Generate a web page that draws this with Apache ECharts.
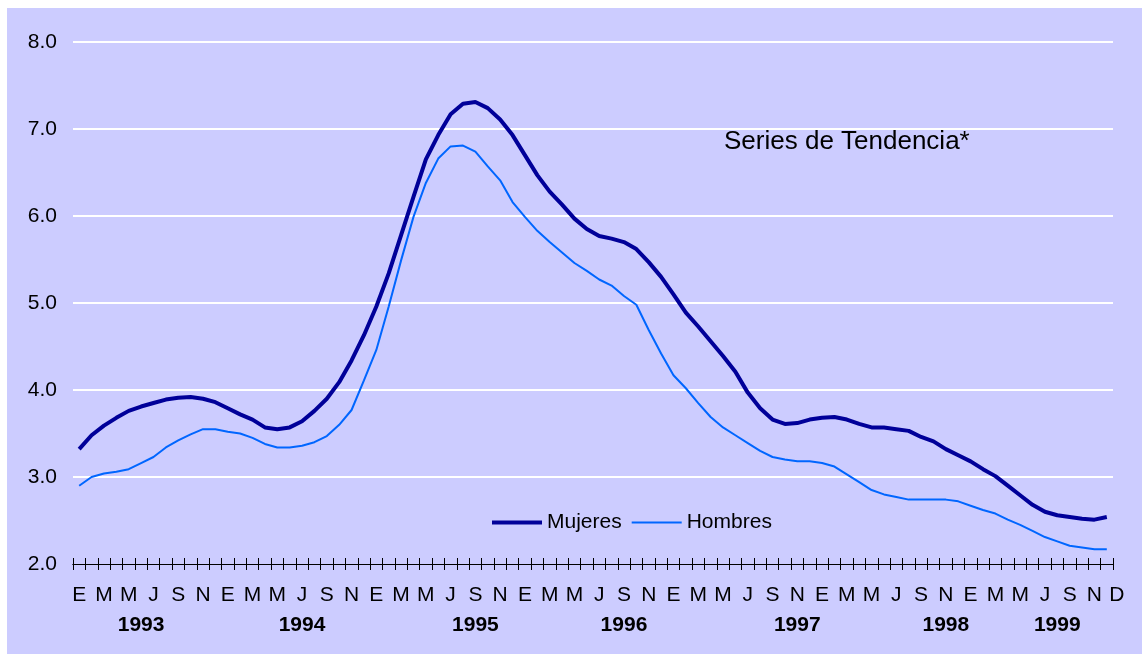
<!DOCTYPE html>
<html>
<head>
    <meta http-equiv="Content-Type" content="text/html; charset=utf-8">
    <script type="text/javascript" src="https://cdn.jsdelivr.net/npm/echarts@6/dist/echarts.min.js"></script>
    <style>
        html, body { margin: 0; padding: 0; background: #ffffff; }
        #dom { position: absolute; left: 7px; top: 8px; width: 1135px; height: 646px; }
    </style>
</head>
<body>
<div id="dom"></div>
<script type="text/javascript">
    // iniciales de los meses (E = enero ... D = diciembre)
    var monthLetters = ['E','F','M','A','M','J','J','A','S','O','N','D'];
    var years = [1993, 1994, 1995, 1996, 1997, 1998, 1999];
    // posicion (indice de mes) donde va la etiqueta del año
    var yearLabelPos = [5, 18, 32, 44, 58, 70, 79];
    var yTicks = [2, 8, 1]; // min, max, intervalo

    var mujeres = [3.32,3.48,3.59,3.68,3.76,3.81,3.85,3.89,3.91,3.92,
        3.90,3.86,3.79,3.72,3.66,3.57,3.55,3.57,3.64,3.76,
        3.90,4.09,4.34,4.63,4.96,5.34,5.78,6.22,6.65,6.93,
        7.17,7.29,7.31,7.24,7.11,6.93,6.70,6.47,6.28,6.13,
        5.97,5.85,5.77,5.74,5.70,5.62,5.47,5.30,5.10,4.89,
        4.73,4.56,4.39,4.21,3.97,3.79,3.66,3.61,3.62,3.66,
        3.68,3.69,3.66,3.61,3.57,3.57,3.55,3.53,3.46,3.41,
        3.32,3.25,3.18,3.09,3.01,2.90,2.79,2.68,2.60,2.56,
        2.54,2.52,2.51,2.54];
    var hombres = [2.90,3.00,3.04,3.06,3.09,3.16,3.23,3.34,3.42,3.49,
        3.55,3.55,3.52,3.50,3.45,3.38,3.34,3.34,3.36,3.40,
        3.47,3.60,3.77,4.11,4.46,4.96,5.49,5.99,6.38,6.66,
        6.80,6.81,6.74,6.57,6.41,6.16,5.99,5.83,5.70,5.58,
        5.46,5.37,5.27,5.20,5.08,4.98,4.69,4.42,4.17,4.02,
        3.85,3.69,3.57,3.48,3.39,3.30,3.23,3.20,3.18,3.18,
        3.16,3.12,3.03,2.94,2.85,2.80,2.77,2.74,2.74,2.74,
        2.74,2.72,2.67,2.62,2.58,2.51,2.45,2.38,2.31,2.26,
        2.21,2.19,2.17,2.17];

    // categorias: un mes por punto
    var categories = [];
    for (var y = 0; y < years.length; y++) {
        for (var m = 0; m < 12; m++) {
            categories.push(years[y] + '-' + (m + 1));
        }
    }
    var last = categories.length - 1;
    var font = "'Liberation Sans', Arial, sans-serif";

    var myChart = echarts.init(document.getElementById('dom'));
    var option = {
        backgroundColor: '#CCCCFF',
        animation: false,
        title: {
            text: 'Series de Tendencia*',
            left: 717,
            top: 121,
            padding: 0,
            textStyle: { fontFamily: font, fontSize: 26, fontWeight: 'normal', color: '#000' }
        },
        legend: {
            data: [
                { name: 'Mujeres', lineStyle: { width: 4 } },
                { name: 'Hombres', lineStyle: { width: 2 } }
            ],
            left: 483,
            top: 504,
            padding: 0,
            itemWidth: 50,
            itemHeight: 14,
            itemGap: 9,
            itemStyle: { opacity: 0 },
            textStyle: { fontFamily: font, fontSize: 21, color: '#000' }
        },
        grid: {
            left: 66,
            top: 34,
            width: 1040,
            height: 522,
            containLabel: false,
            outerBoundsMode: 'none'
        },
        xAxis: [
            {
                type: 'category',
                position: 'bottom',
                data: categories,
                boundaryGap: true,
                axisLine: { onZero: false, lineStyle: { color: '#000', width: 1 } },
                axisTick: { show: true, interval: 0, length: 6, lineStyle: { color: '#000' } },
                axisLabel: {
                    interval: function (idx) { return idx % 2 === 0 || idx === last; },
                    margin: 21,
                    fontFamily: font,
                    fontSize: 21,
                    color: '#000',
                    formatter: function (val, idx) {
                        if (idx === last) return '{d|D}';
                        return monthLetters[idx % 12];
                    },
                    rich: {
                        d: { fontFamily: font, fontSize: 21, color: '#000', padding: [0, 0, 0, 20] }
                    }
                },
                splitLine: { show: false }
            },
            {
                type: 'category',
                position: 'bottom',
                data: categories,
                boundaryGap: true,
                axisLine: { onZero: false, lineStyle: { color: '#000', width: 1 } },
                axisTick: { show: true, inside: true, interval: 0, length: 6, lineStyle: { color: '#000' } },
                axisLabel: {
                    interval: function (idx) { return yearLabelPos.indexOf(idx) >= 0; },
                    margin: 51,
                    fontFamily: font,
                    fontSize: 21,
                    fontWeight: 'bold',
                    color: '#000',
                    formatter: function (val, idx) {
                        var k = yearLabelPos.indexOf(idx);
                        return k >= 0 ? String(years[k]) : '';
                    }
                },
                splitLine: { show: false }
            }
        ],
        yAxis: {
            type: 'value',
            min: yTicks[0],
            max: yTicks[1],
            interval: yTicks[2],
            axisLine: { show: false },
            axisTick: { show: false },
            axisLabel: {
                margin: 16,
                fontFamily: font,
                fontSize: 21,
                color: '#000',
                formatter: function (v) { return v.toFixed(1); }
            },
            splitLine: { show: true, showMinLine: false, lineStyle: { color: '#ffffff', width: 2 } }
        },
        series: [
            {
                name: 'Mujeres',
                type: 'line',
                xAxisIndex: 0,
                data: mujeres,
                symbol: 'none',
                smooth: false,
                z: 3,
                lineStyle: { color: '#000099', width: 4 },
                itemStyle: { color: '#000099' }
            },
            {
                name: 'Hombres',
                type: 'line',
                xAxisIndex: 0,
                data: hombres,
                symbol: 'none',
                smooth: false,
                z: 2,
                lineStyle: { color: '#0066FF', width: 2 },
                itemStyle: { color: '#0066FF' }
            }
        ]
    };
    myChart.setOption(option, true);
</script>
</body>
</html>
